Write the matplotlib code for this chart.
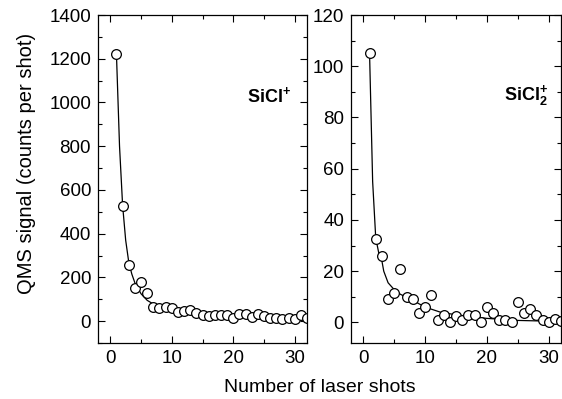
import numpy as np
import matplotlib
matplotlib.use("Agg")
import matplotlib.pyplot as plt
from matplotlib.ticker import MultipleLocator

plt.rcParams['font.family'] = ['Liberation Sans', 'DejaVu Sans']
plt.rcParams['mathtext.fontset'] = 'custom'
plt.rcParams['mathtext.rm'] = 'Liberation Sans'
plt.rcParams['mathtext.bf'] = 'Liberation Sans:bold'

# SiCl+ data (counts per shot) for laser shots 1..32
shots = np.arange(1, 33)
sicl = [1220, 527, 258, 152, 179, 129, 65, 58, 65, 60, 41, 48, 50, 38, 29, 23,
        26, 26, 30, 12, 33, 32, 20, 33, 23, 12, 15, 11, 12, 11, 30, 12]
# fitted curve
sicl_fit_x = [1, 1.5, 2, 2.5, 3, 3.5, 4, 5, 6, 7, 8, 9, 10, 12, 14, 16, 18, 20, 24, 28, 32]
sicl_fit = [1220, 800, 530, 370, 270, 215, 175, 125, 95, 78, 66, 58, 52, 44, 38, 33, 29, 26, 21, 17, 14]

# SiCl2+ data
sicl2 = [105, 32.7, 25.8, 9.0, 11.7, 20.9, 9.8, 9.0, 3.7, 6.0, 10.7, 0.8, 2.8, 0, 2.4, 1.1,
         2.8, 3.0, 0, 6.0, 3.7, 1.1, 1.1, 0, 8.1, 3.7, 5.3, 2.8, 1.1, 0, 1.3, 0.4]
sicl2_fit_x = [1, 1.5, 2, 2.5, 3, 3.3, 4, 5, 6, 7.7, 10, 12.5, 15, 20, 25, 32]
sicl2_fit = [105, 55, 33, 27, 24, 20, 15.5, 12.8, 11, 9, 6, 4, 3, 1.6, 0.8, 0.4]

fig = plt.figure(figsize=(5.62, 3.99), dpi=100)
ax1 = fig.add_axes([0.1744, 0.1404, 0.3719, 0.822])
ax2 = fig.add_axes([0.6246, 0.1404, 0.3737, 0.822])

def style(ax, ymaj, ymin):
    ax.set_xlim(-2, 32)
    ax.xaxis.set_major_locator(MultipleLocator(10))
    ax.xaxis.set_minor_locator(MultipleLocator(5))
    ax.yaxis.set_major_locator(MultipleLocator(ymaj))
    ax.yaxis.set_minor_locator(MultipleLocator(ymin))
    ax.tick_params(which='both', direction='in', top=True, right=True,
                   labelsize=13.5, width=0.8, color='black', pad=5)
    ax.tick_params(which='major', length=5)
    ax.tick_params(which='minor', length=3)
    for s in ax.spines.values():
        s.set_linewidth(0.9)

ax1.plot(sicl_fit_x, sicl_fit, color='black', lw=0.9)
ax1.plot(shots, sicl, 'o', mfc='white', mec='black', ms=7, mew=0.9)
ax1.set_ylim(-100, 1400)
style(ax1, 200, 100)
ax1.text(22.3, 1030, r'$\mathbf{SiCl^{+}}$', fontsize=13, ha='left', va='center')

ax2.plot(sicl2_fit_x, sicl2_fit, color='black', lw=0.9)
ax2.plot(shots, sicl2, 'o', mfc='white', mec='black', ms=7, mew=0.9)
ax2.set_ylim(-8, 120)
style(ax2, 20, 10)
ax2.text(22.8, 88.5, r'$\mathbf{SiCl_{2}^{+}}$', fontsize=13, ha='left', va='center')

fig.text(320 / 562, 1 - 387 / 399, 'Number of laser shots', fontsize=14, ha='center', va='center')
fig.text(27 / 562, 1 - 163 / 399, 'QMS signal (counts per shot)', fontsize=14.5,
         rotation=90, ha='center', va='center')

fig.savefig('out.png', dpi=100)
